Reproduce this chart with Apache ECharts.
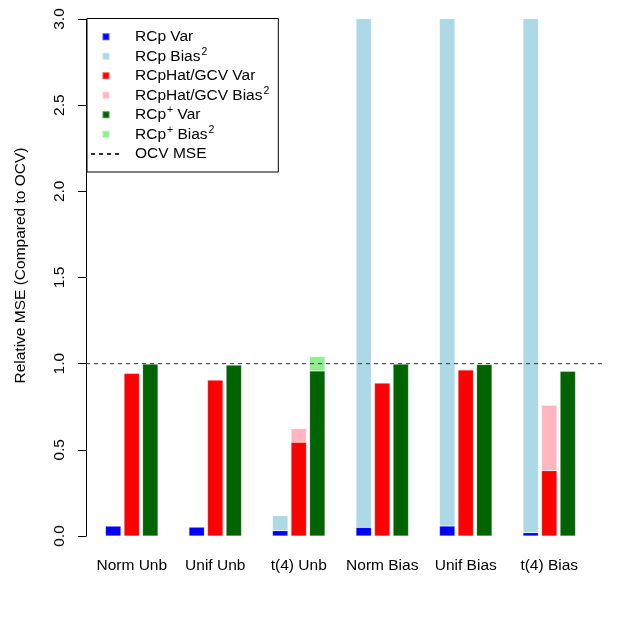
<!DOCTYPE html>
<html><head><meta charset="utf-8">
<script src="https://cdn.jsdelivr.net/npm/echarts@6/dist/echarts.min.js"></script>
<style>html,body{margin:0;padding:0;background:#fff}#c{width:623px;height:623px}</style>
</head><body><div id="c"></div>
<script>
// ---- data ----
const categories = ['Norm Unb', 'Unif Unb', 't(4) Unb', 'Norm Bias', 'Unif Bias', 't(4) Bias'];
const rcpVar   = [0.058, 0.052, 0.031, 0.050, 0.058, 0.019];
const rcpBias  = [0.000, 0.000, 0.087, 3.500, 3.500, 3.500];
const gcvVar   = [0.944, 0.905, 0.544, 0.888, 0.963, 0.379];
const gcvBias  = [0.000, 0.000, 0.079, 0.000, 0.006, 0.380];
const plusVar  = [0.998, 0.992, 0.958, 0.998, 0.995, 0.956];
const plusBias = [0.000, 0.000, 0.083, 0.000, 0.000, 0.000];
const ocvMse = 1.0;
const yMin = 0, yMax = 3, yStep = 0.5;
const seriesNames = ['RCp Var', 'RCp Bias^2', 'RCpHat/GCV Var', 'RCpHat/GCV Bias^2', 'RCp^+ Var', 'RCp^+ Bias^2'];
const lineName = 'OCV MSE';

// ---- chart ----
const FONT = 'Liberation Sans, Arial, Helvetica, sans-serif';
const FS = 15.5;
const colors = ['#0000FF', '#ADD8E6', '#FF0000', '#FFB6C1', '#006400', '#90EE90'];
const values = [rcpVar, rcpBias, gcvVar, gcvBias, plusVar, plusBias];
const stacks = ['a', 'a', 'b', 'b', 'c', 'c'];

const fmtName = name => name.split(/(\^.)/).filter(s => s).map(s =>
  s[0] === '^' ? '{sup|' + s[1] + '}' : '{n|' + s + '}').join('');
const richStyle = {
  n: {fontSize: FS, fontFamily: FONT, color: '#000', lineHeight: 19.5},
  sup: {fontSize: 10.5, fontFamily: FONT, color: '#000', lineHeight: 12, verticalAlign: 'top', padding: [0, 0, 0, 1]}
};

const barSeries = seriesNames.map((nm, i) => ({
  name: nm, type: 'bar', stack: stacks[i], xAxisIndex: 0, yAxisIndex: 0,
  data: values[i], barWidth: 15.46, barGap: '20%',
  itemStyle: {color: colors[i], borderColor: 'rgba(255,255,255,0.3)', borderWidth: 0.6},
  clip: true, silent: true, animation: false
}));

const option = {
  animation: false,
  backgroundColor: '#fff',
  grid: [
    {left: 90, right: 32, top: 19, bottom: 87},
    {left: 86, right: 19, top: 19, bottom: 87}
  ],
  xAxis: [
    {type: 'category', gridIndex: 0, data: categories,
     axisLine: {show: false}, axisTick: {show: false},
     axisLabel: {interval: 0, fontSize: FS, fontFamily: FONT, color: '#000', margin: 22}},
    {type: 'value', gridIndex: 1, min: 0, max: 1, show: false}
  ],
  yAxis: [
    {type: 'value', gridIndex: 0, min: yMin, max: yMax, interval: yStep, show: false},
    {type: 'value', gridIndex: 1, min: yMin, max: yMax, interval: yStep,
     name: 'Relative MSE (Compared to OCV)', nameLocation: 'middle', nameGap: 57,
     nameTextStyle: {fontSize: FS, fontFamily: FONT, color: '#000', padding: [0, 0, 0, 24]},
     axisLine: {show: true, lineStyle: {color: '#000', width: 1}},
     axisTick: {show: true, length: 8, lineStyle: {color: '#000'}},
     splitLine: {show: false},
     axisLabel: {rotate: 90, fontSize: FS, fontFamily: FONT, color: '#000', margin: 18,
                 formatter: v => v.toFixed(1)}}
  ],
  legend: [
    {data: seriesNames, orient: 'vertical', left: 87, top: 18.5,
     padding: [8.5, 9, 28, 14.5], itemGap: 0, itemWidth: 7, itemHeight: 7, icon: 'rect',
     borderColor: '#000', borderWidth: 1, selectedMode: false,
     formatter: fmtName,
     textStyle: {fontSize: FS, fontFamily: FONT, color: '#000', lineHeight: 19.5, padding: [0, 0, 0, 20.5], rich: richStyle}},
    {data: [lineName], orient: 'vertical', left: 90, top: 144.25, padding: 0,
     itemGap: 0, itemWidth: 28, itemHeight: 7, selectedMode: false,
     itemStyle: {opacity: 0},
     formatter: fmtName,
     textStyle: {fontSize: FS, fontFamily: FONT, color: '#000', lineHeight: 19.5, padding: [0, 0, 0, 11], rich: richStyle}}
  ],
  series: barSeries.concat([{
    name: lineName, type: 'line', xAxisIndex: 1, yAxisIndex: 1,
    data: [[0, ocvMse], [1, ocvMse]], symbol: 'none', showSymbol: false, silent: true,
    lineStyle: {color: '#333', width: 1, type: [4, 4]}, itemStyle: {color: '#333'}, z: 5
  }])
};
const chart = echarts.init(document.getElementById('c'), null, {renderer: 'canvas'});
chart.setOption(option);
</script></body></html>
